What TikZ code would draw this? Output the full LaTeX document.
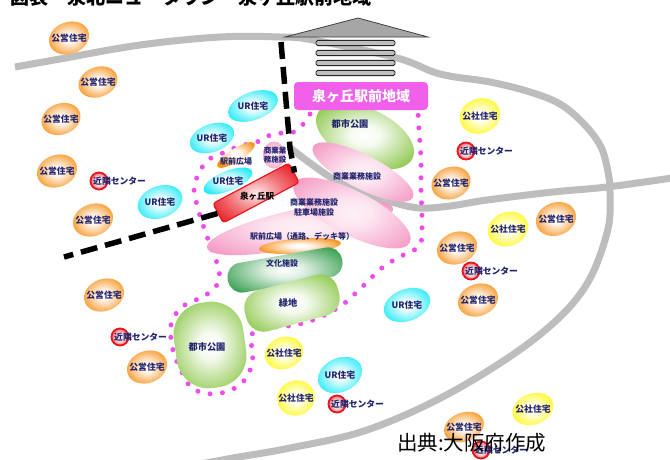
\documentclass[tikz,border=0pt]{standalone}
\usepackage{fontspec}
\newfontfamily\jp{Noto Sans CJK JP}
\usetikzlibrary{shapes.geometric}

\definecolor{navy}{HTML}{23246E}
\definecolor{roadgray}{HTML}{BDBDBD}
\definecolor{orB}{HTML}{F7931E}
\definecolor{ylB}{HTML}{FFF81A}
\definecolor{cyB}{HTML}{25EAF7}
\definecolor{pkB}{HTML}{F59CC6}
\definecolor{lgB}{HTML}{86C440}
\definecolor{dgB}{HTML}{2E9A48}
\definecolor{rdB}{HTML}{E8161E}
\definecolor{magB}{HTML}{F060EA}
\definecolor{dotM}{HTML}{EE4CEE}

% soft radial fills: pale centre, saturated rim
\pgfdeclareradialshading{orShade}{\pgfpoint{0bp}{0bp}}{color(0bp)=(white); color(6bp)=(orB!6); color(27bp)=(orB); color(50bp)=(orB)}
\pgfdeclareradialshading{ylShade}{\pgfpoint{0bp}{0bp}}{color(0bp)=(white); color(6bp)=(ylB!6); color(27bp)=(ylB); color(50bp)=(ylB)}
\pgfdeclareradialshading{cyShade}{\pgfpoint{0bp}{0bp}}{color(0bp)=(white); color(6bp)=(cyB!6); color(27bp)=(cyB); color(50bp)=(cyB)}
\pgfdeclareradialshading{pkShade}{\pgfpoint{0bp}{0bp}}{color(0bp)=(pkB!15); color(8bp)=(pkB!25); color(30bp)=(pkB); color(50bp)=(pkB)}
\pgfdeclareradialshading{lgShade}{\pgfpoint{0bp}{0bp}}{color(0bp)=(white); color(7bp)=(lgB!8); color(30bp)=(lgB); color(50bp)=(lgB)}
\pgfdeclareradialshading{dgShade}{\pgfpoint{0bp}{0bp}}{color(0bp)=(white); color(8bp)=(dgB!15); color(31bp)=(dgB); color(50bp)=(dgB)}
\pgfdeclareradialshading{rdShade}{\pgfpoint{0bp}{0bp}}{color(0bp)=(white); color(14bp)=(rdB!20); color(34bp)=(rdB); color(50bp)=(rdB)}
\pgfdeclareradialshading{sbShade}{\pgfpoint{0bp}{0bp}}{color(0bp)=(rdB!10); color(16bp)=(rdB!60); color(32bp)=(rdB); color(50bp)=(rdB)}

% housing blob: style, name, position, width, height, rotation, text
\newcommand\hsg[7]{%
  \node[#1, minimum width=#4pt, minimum height=#5pt, rotate=#6] (#2) at (#3) {};
  \node[lbl] (#2-t) at (#2.center) {#7};}
% neighbourhood centre: name, position
\newcommand\kinrin[2]{%
  \node[ring] (#1) at (#2) {};
  \node[lbl, anchor=west] (#1-t) at ([xshift=-6pt]#1.center) {近隣センター};}

\begin{document}
\begin{tikzpicture}[x=1pt, y=1pt,
  lbl/.style={font=\jp\bfseries\fontsize{8.8}{9}\selectfont, text=navy, inner sep=0pt},
  lblA/.style={font=\jp\bfseries\fontsize{8}{10}\selectfont, text=navy, inner sep=0pt, align=center},
  lblB/.style={font=\jp\bfseries\fontsize{9.2}{10}\selectfont, text=navy, inner sep=0pt},
  blob/.style={ellipse, inner sep=0pt, shade},
  hOr/.style={blob, shading=orShade},
  hYl/.style={blob, shading=ylShade},
  hCy/.style={blob, shading=cyShade},
  pinkarea/.style={blob, shading=pkShade},
  greenarea/.style={rectangle, inner sep=0pt, shade, shading=lgShade},
  ring/.style={circle, minimum size=17pt, inner sep=0pt, draw=rdB, line width=1.8pt, shade, shading=rdShade},
  road/.style={roadgray, line width=7pt},
  rail/.style={black, line width=5.5pt, dash pattern=on 17pt off 8pt},
  boundary/.style={dotM, line width=5pt, line cap=round, dash pattern=on 0pt off 12.5pt}]

\useasboundingbox (0,0) rectangle (670,-459);
\fill[white] (0,0) rectangle (670,-459);

% heading (cut by the page top)
\node[anchor=base west, inner sep=0pt, font=\jp\bfseries\fontsize{19}{20}\selectfont] (title) at (10,-4) {図表　泉北ニュータウン・泉ヶ丘駅前地域};

% roads
\draw[road] plot[smooth, tension=0.6] coordinates {(15,-67) (60,-59) (140,-45) (220,-37) (280,-37) (313,-40) (397,-58) (440,-74) (490,-82) (530,-92) (560,-104) (583,-123) (600,-145) (607,-167) (610,-192) (607,-233) (583,-290) (533,-340) (450,-393) (367,-430) (290,-448) (233,-458) (190,-466)};
\draw[road] plot[smooth, tension=0.6] coordinates {(289,-147) (310,-163) (335,-180) (363,-193) (395,-203) (420,-208) (450,-206) (487,-200) (553,-192) (607,-187) (672,-178)};

% station building icon
\filldraw[fill=gray!70, draw=gray!50!black, line width=0.8pt] (285,-37) -- (358,-18) -- (428,-37) -- cycle;
\foreach \yc in {43,53,63,73}
  \filldraw[fill=gray!50, draw=gray!30!black, line width=0.9pt, rounded corners=1.5pt] (316,-\yc+2.6) rectangle (395,-\yc-2.6);

% dotted boundary of the station-front area
\draw[boundary] plot[smooth, tension=0.6] coordinates {(310,-114) (296,-131) (273,-134) (257,-142) (240,-146) (223,-153) (208,-160) (199,-173) (194,-188) (197,-205) (202,-222) (209,-242) (217,-263) (219,-281) (206,-295) (182,-307) (171,-325) (173,-350) (180,-368) (192,-388) (213,-394) (235,-388) (248,-375) (253,-355) (251,-335) (268,-328) (295,-325) (318,-318) (342,-305) (362,-287) (383,-267) (405,-254) (420,-245) (422,-220) (421,-190) (421,-160) (419,-130) (418,-112)};

% land use inside the area
\node[blob, shading=lgShade, minimum width=105pt, minimum height=55pt, rotate=-25] (park1) at (365,-136) {};
\node[lblB] (park1-t) at (350,-124) {都市公園};

\node[pinkarea, minimum width=112pt, minimum height=34pt, rotate=-27] (biz1) at (363,-172) {};
\node[lblA] (biz1-t) at (357,-176) {商業業務施設};

\node[pinkarea, minimum width=190pt, minimum height=38pt, rotate=12] (plaza2) at (300,-228) {};
\node[pinkarea, minimum width=130pt, minimum height=44pt, rotate=-27] (biz2) at (352,-213) {};
\node[lblA] (biz2-t) at (314,-207) {商業業務施設\\駐車場施設};
\node[blob, shading=orShade, minimum width=82pt, minimum height=15pt, rotate=4] (deck) at (300,-246) {};
\node[lblA] (plaza2-t) at (302,-236) {駅前広場（通路、デッキ等）};

\node[rectangle, rounded corners=14pt, inner sep=0pt, shade, shading=dgShade, minimum width=116pt, minimum height=30pt, rotate=10] (culture) at (285,-270) {};
\node[lblA] (culture-t) at (282,-263) {文化施設};

\node[greenarea, rounded corners=18pt, minimum width=96pt, minimum height=42pt, rotate=15] (green) at (292,-303) {};
\node[lblB] (green-t) at (288,-303) {緑地};

\node[greenarea, rounded corners=32pt, minimum width=70pt, minimum height=86pt, rotate=8] (park2) at (210,-345) {};
\node[lblB] (park2-t) at (207,-347) {都市公園};

% small facilities by the station
\node[blob, shading=orShade, minimum width=44pt, minimum height=13pt, rotate=32] (plaza1) at (236,-155) {};
\node[lblA] (plaza1-t) at (236,-161) {駅前広場};
\node[pinkarea, minimum width=22pt, minimum height=27pt] (biz3) at (274,-155) {};
\node[lblA, font=\jp\bfseries\fontsize{7.5}{9.5}\selectfont] (biz3-t) at (275,-155) {商業業\\務施設};

% UR housing
\hsg{hCy}{ur1}{253,-106}{52}{28}{20}{UR住宅}
\hsg{hCy}{ur2}{212,-138}{46}{28}{20}{UR住宅}
\hsg{hCy}{ur3}{228,-181}{52}{20}{22}{UR住宅}
\hsg{hCy}{ur4}{160,-202}{46}{32}{20}{UR住宅}
\hsg{hCy}{ur5}{407,-305}{48}{32}{20}{UR住宅}
\hsg{hCy}{ur6}{340,-375}{46}{34}{25}{UR住宅}

% public housing
\hsg{hOr}{ko1}{69,-38}{41}{32}{20}{公営住宅}
\hsg{hOr}{ko2}{98,-82}{40}{30}{20}{公営住宅}
\hsg{hOr}{ko3}{61,-119}{40}{31}{20}{公営住宅}
\hsg{hOr}{ko4}{57,-171}{41}{32}{20}{公営住宅}
\hsg{hOr}{ko5}{93,-220}{41}{32}{20}{公営住宅}
\hsg{hOr}{ko6}{104,-295}{41}{32}{20}{公営住宅}
\hsg{hOr}{ko7}{147,-367}{41}{32}{20}{公営住宅}
\hsg{hOr}{ko8}{451,-183}{40}{32}{20}{公営住宅}
\hsg{hOr}{ko9}{556,-219}{41}{33}{20}{公営住宅}
\hsg{hOr}{ko10}{457,-248}{41}{32}{20}{公営住宅}
\hsg{hOr}{ko11}{478,-300}{41}{32}{20}{公営住宅}
\hsg{hOr}{ko12}{464,-427}{41}{29}{20}{公営住宅}

% public corporation housing
\hsg{hYl}{ks1}{480,-116}{41}{35}{20}{公社住宅}
\hsg{hYl}{ks2}{508,-229}{41}{34}{20}{公社住宅}
\hsg{hYl}{ks3}{284,-353}{39}{32}{20}{公社住宅}
\hsg{hYl}{ks4}{296,-398}{38}{35}{20}{公社住宅}
\hsg{hYl}{ks5}{533,-409}{42}{31}{20}{公社住宅}

% neighbourhood centres
\kinrin{nc1}{99,-181}
\kinrin{nc2}{120,-337}
\kinrin{nc3}{466,-151}
\kinrin{nc4}{471,-271}
\kinrin{nc5}{337,-404}
\kinrin{nc6}{481,-450}

% railway and station
\node[rectangle, rounded corners=3pt, draw=rdB, line width=1.2pt, shade, shading=sbShade, minimum width=86pt, minimum height=22pt, inner sep=0pt, rotate=28] (sta) at (256,-193) {};
\coordinate (railN) at (281,-42);
\coordinate (railK) at (290,-148);
\coordinate (railW) at (64,-257);
\draw[rail] (railN) -- (railK) -- (sta.east);
\draw[rail] (sta.west) -- (railW);
\node[font=\jp\bfseries\fontsize{8.5}{9}\selectfont, inner sep=0pt] (sta-t) at (257,-196) {泉ヶ丘駅};

% station-front area banner
\node[fill=magB, rounded corners=4pt, minimum width=134pt, minimum height=28pt, inner sep=0pt, text=white, font=\jp\bfseries\fontsize{14}{15}\selectfont] (area) at (361,-96) {泉ヶ丘駅前地域};

% source note
\node[anchor=base west, inner sep=0pt, font=\jp\fontsize{20.5}{22}\selectfont] (src) at (397,-450) {出典:大阪府作成};
\end{tikzpicture}
\end{document}
